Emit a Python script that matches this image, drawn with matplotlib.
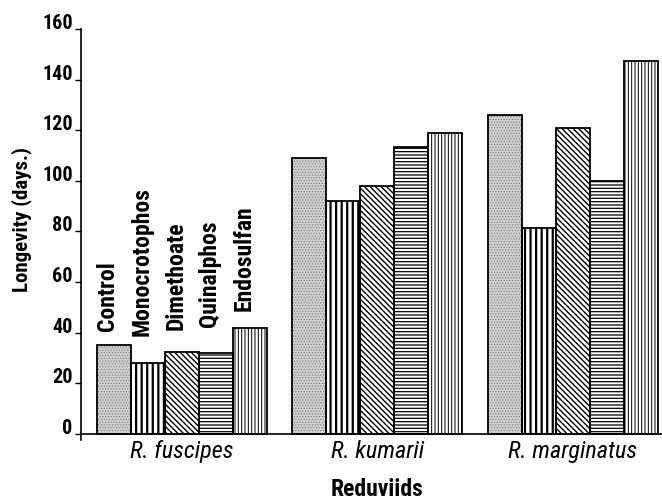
import matplotlib
matplotlib.use("Agg")
import matplotlib.pyplot as plt
from matplotlib import font_manager
import numpy as np

groups = ["R. fuscipes", "R. kumarii", "R. marginatus"]
treatments = ["Control", "Monocrotophos", "Dimethoate", "Quinalphos", "Endosulfan"]
control = [35, 109, 126]
monocrotophos = [28, 92, 81.5]
dimethoate = [32.5, 98, 121]
quinalphos = [32, 113.5, 100]
endosulfan = [42, 119, 147.5]
yticks = [0, 20, 40, 60, 80, 100, 120, 140, 160]

series = [control, monocrotophos, dimethoate, quinalphos, endosulfan]

names = {f.name for f in font_manager.fontManager.ttflist}
narrow = 'DejaVu Sans'
for cand in ["Liberation Sans Narrow", "Arial Narrow", "Roboto Condensed", "PT Sans Narrow", "Archivo Narrow"]:
    if cand in names:
        narrow = cand
        break
plt.rcParams['font.family'] = [narrow, 'DejaVu Sans']

fig = plt.figure(figsize=(6.62, 4.99), dpi=100)
ax = fig.add_axes([81/662, (499-440.3)/499, 581/662, (440.3-29)/499])

styles = [
    dict(hatch='......', fc='#d0d0d0', hc='#7a7a7a', hlw=0.5),
    dict(hatch='|||', fc='white', hc='black', hlw=1.6),
    dict(hatch='\\\\\\\\\\\\', fc='white', hc='black', hlw=1.0),
    dict(hatch='-----', fc='white', hc='black', hlw=0.9),
    dict(hatch='|||||', fc='white', hc='black', hlw=0.7),
]

spacing = 5.75
centers = np.arange(len(groups)) * spacing
for i, (vals, st) in enumerate(zip(series, styles)):
    xs = centers + (i - 2)
    with plt.rc_context({'hatch.linewidth': st['hlw']}):
        ax.bar(xs, vals, width=1.0, facecolor=st['fc'], edgecolor=st['hc'],
               hatch=st['hatch'], linewidth=0, zorder=2)
    ax.bar(xs, vals, width=1.0, facecolor='none', edgecolor='black',
           linewidth=1.3, zorder=3)

ax.set_xlim(-2.97, 14.12)
ax.set_ylim(-2.5, 160)

for s in ['top', 'right']:
    ax.spines[s].set_visible(False)
ax.spines['bottom'].set_position(('data', 0))
ax.spines['left'].set_bounds(-2.5, 160)
for s in ['left', 'bottom']:
    ax.spines[s].set_linewidth(1.2)

ax.set_xticks([])
ax.set_yticks(yticks)
ax.set_yticklabels([str(t) for t in yticks], fontsize=14.5, fontweight='bold')
ax.tick_params(axis='y', direction='out', length=4, width=1.0, pad=2)
for lab in ax.get_yticklabels():
    lab.set_va('baseline')

for c, g in zip(centers, groups):
    ax.text(c, -7, g, ha='center', va='center', fontsize=17.5,
            fontstyle='italic', transform=ax.transData, clip_on=False)

label_base = [40.5, 38.8, 40.9, 42.3, 48.4]
for i, (t, yb) in enumerate(zip(treatments, label_base)):
    ax.text(centers[0] + (i - 2) - 0.18, yb, t, rotation=90, ha='center',
            va='bottom', fontsize=17, fontweight='bold')

fig.text(377/662, 1 - 489/499, "Reduviids", ha='center', va='center',
         fontsize=17, fontweight='bold')
fig.text(22/662, 1 - 220/499, "Longevity (days.)", rotation=90, ha='center',
         va='center', fontsize=15, fontweight='bold')

fig.savefig("out.png", dpi=100)
